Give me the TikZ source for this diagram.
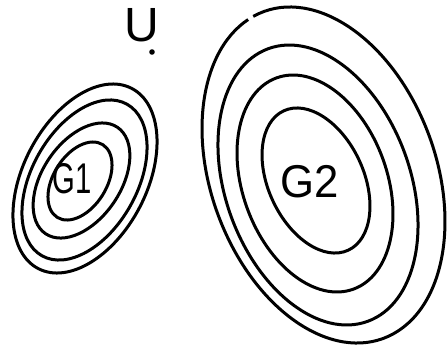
\documentclass[tikz,border=0pt]{standalone}
\usepackage{fontspec}
\setmainfont{Liberation Sans}
\tikzset{
  ring/.style={draw=black, line width=3pt},
  lbl/.style={inner sep=0pt, font=\fontsize{46}{46}\selectfont},
}
\begin{document}
\begin{tikzpicture}[x=1pt, y=-1pt]
\useasboundingbox[fill=white] (0,0) rectangle (448,346);
% G1 rings
\draw[ring, rotate around={62.6:(85,178.5)}] (85,178.5) ellipse [x radius=101.5, y radius=61.8];
\draw[ring, rotate around={60.7:(84.5,180)}] (84.5,180) ellipse [x radius=86.9, y radius=52.6];
\draw[ring, rotate around={56:(81.5,180.5)}] (81.5,180.5) ellipse [x radius=64.2, y radius=39.1];
\draw[ring, rotate around={58:(80,181)}] (80,181) ellipse [x radius=42.9, y radius=26.6];
% G2 rings
\draw[ring, rotate around={110:(323.5,175)}] (323.5,175) ++(-6:174 and 112.7) arc [start angle=-6, end angle=351, x radius=174, y radius=112.7];
\draw[ring, rotate around={110:(318,185)}] (318,185) ellipse [x radius=145.1, y radius=92.4];
\draw[ring, rotate around={110:(315,183.5)}] (315,183.5) ellipse [x radius=112.4, y radius=72.2];
\draw[ring, rotate around={114.8:(316,180.5)}] (316,180.5) ellipse [x radius=76.8, y radius=47.7];
% labels
\node[lbl, font=\fontsize{43}{43}\selectfont, xscale=0.68] (g1) at (72,178.5) {G1};
\node[lbl, xscale=0.95] (g2) at (309.5,181.5) {G2};
\node[lbl, font=\fontsize{48}{48}\selectfont] (u) at (141.5,25.5) {U};
\fill (152,52) circle [radius=2.8];
\end{tikzpicture}
\end{document}
